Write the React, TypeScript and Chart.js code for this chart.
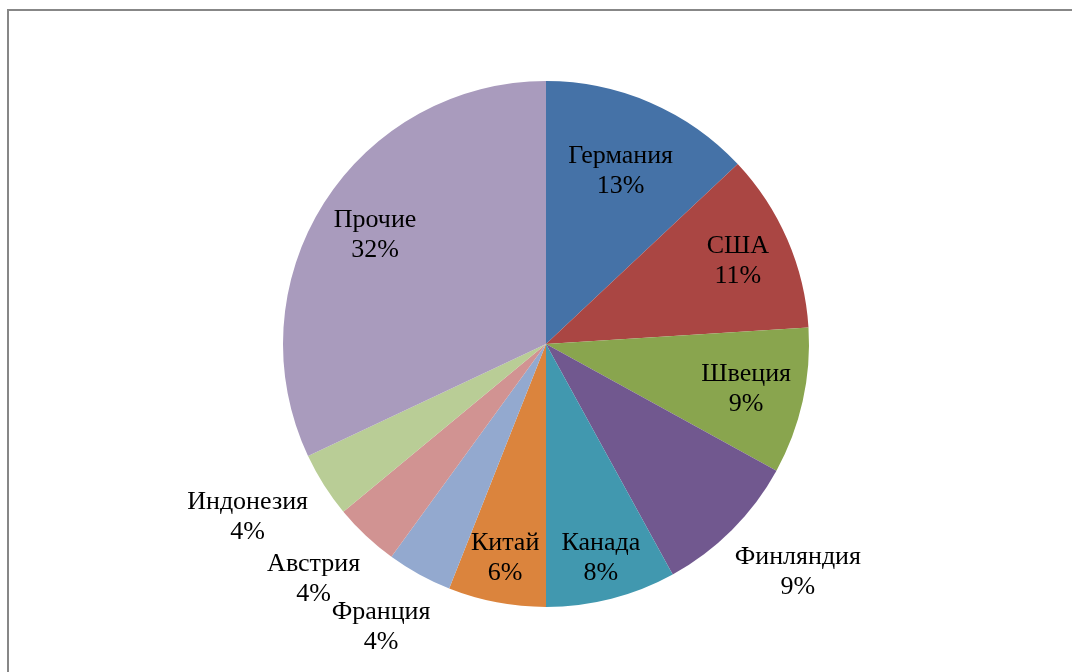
import React, { useEffect, useRef } from "react";
import { Chart, registerables } from "chart.js";

Chart.register(...registerables);

const categories = [
  "Германия",
  "США",
  "Швеция",
  "Финляндия",
  "Канада",
  "Китай",
  "Франция",
  "Австрия",
  "Индонезия",
  "Прочие",
];
const shares = [13, 11, 9, 9, 8, 6, 4, 4, 4, 32];
const percentLabels = ["13%", "11%", "9%", "9%", "8%", "6%", "4%", "4%", "4%", "32%"];
const sliceColors = [
  "#4572A7",
  "#AA4643",
  "#89A54E",
  "#71588F",
  "#4198AF",
  "#DB843D",
  "#93A9CF",
  "#D19392",
  "#B9CD96",
  "#A99BBD",
];
// <1: label centred inside at factor*R; >=1: outside with gap (factor-1)*R
const labelRadius = [0.715, 0.795, 0.78, 1.114, 0.84, 0.83, 1.114, 1.114, 1.114, 0.77];

const FONT = "26px 'Liberation Serif', 'Times New Roman', serif";
const LINE = 30;

const labelPlugin = {
  id: "sliceLabels",
  afterDatasetsDraw(chart: any) {
    const ctx = chart.ctx;
    const meta = chart.getDatasetMeta(0);
    ctx.save();
    ctx.font = FONT;
    ctx.fillStyle = "#000000";
    ctx.textAlign = "center";
    ctx.textBaseline = "middle";
    meta.data.forEach((arc: any, i: number) => {
      const { x, y, startAngle, endAngle, outerRadius } = arc.getProps(
        ["x", "y", "startAngle", "endAngle", "outerRadius"],
        true
      );
      const mid = (startAngle + endAngle) / 2;
      const c = Math.cos(mid);
      const s = Math.sin(mid);
      const f = labelRadius[i];
      let cx: number, cy: number;
      if (f < 1) {
        cx = x + c * outerRadius * f;
        cy = y + s * outerRadius * f;
      } else {
        const w = Math.max(
          ctx.measureText(categories[i]).width,
          ctx.measureText(percentLabels[i]).width
        );
        const h = LINE * 2;
        const r = outerRadius * f;
        cx = x + c * r + (w / 2) * c;
        cy = y + s * r + (h / 2) * s;
      }
      ctx.fillText(categories[i], cx, cy - LINE / 2);
      ctx.fillText(percentLabels[i], cx, cy + LINE / 2);
    });
    ctx.restore();
  },
};

const framePlugin = {
  id: "frame",
  afterDraw(chart: any) {
    const ctx = chart.ctx;
    ctx.save();
    ctx.fillStyle = "#878787";
    ctx.fillRect(7, 9, 2, chart.height - 9);
    ctx.fillRect(7, 9, chart.width - 7, 2);
    ctx.restore();
  },
};

export default function App() {
  const ref = useRef<HTMLCanvasElement | null>(null);
  useEffect(() => {
    document.body.style.margin = "0";
    const canvas = ref.current;
    if (!canvas) return;
    const chart = new Chart(canvas, {
      type: "pie",
      data: {
        labels: categories,
        datasets: [
          {
            data: shares,
            backgroundColor: sliceColors,
            borderWidth: 0,
          },
        ],
      },
      options: {
        animation: false,
        responsive: false,
        devicePixelRatio: 1,
        layout: { padding: { top: 81, bottom: 65, left: 200, right: 180 } },
        plugins: {
          legend: { display: false },
          tooltip: { enabled: false },
        },
      },
      plugins: [labelPlugin, framePlugin],
    });
    return () => chart.destroy();
  }, []);
  return (
    <div style={{ width: 1072, height: 672, background: "#ffffff" }}>
      <canvas ref={ref} width={1072} height={672} style={{ display: "block" }} />
    </div>
  );
}
